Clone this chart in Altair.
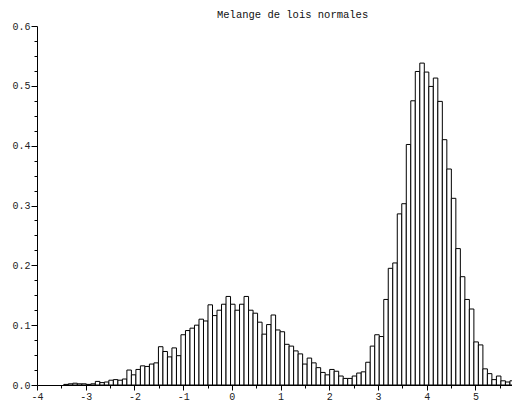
import altair as alt
import pandas as pd

title_text = "Melange de lois normales"

# histogram: 100 classes, first class starts at bin_start, class width bin_width
bin_start = -3.45
bin_width = 0.0925
densities = [
    0.001, 0.002, 0.003, 0.002, 0.002, 0.001, 0.002, 0.006, 0.004, 0.005,
    0.008, 0.009, 0.008, 0.010, 0.025, 0.017, 0.026, 0.032, 0.031, 0.035,
    0.037, 0.064, 0.056, 0.047, 0.062, 0.049, 0.084, 0.091, 0.095, 0.100,
    0.110, 0.107, 0.134, 0.116, 0.125, 0.135, 0.148, 0.135, 0.125, 0.135,
    0.148, 0.125, 0.120, 0.105, 0.085, 0.101, 0.117, 0.092, 0.089, 0.068,
    0.065, 0.057, 0.052, 0.035, 0.045, 0.037, 0.029, 0.021, 0.017, 0.026,
    0.023, 0.015, 0.011, 0.011, 0.015, 0.020, 0.022, 0.038, 0.065, 0.084,
    0.081, 0.143, 0.195, 0.204, 0.286, 0.303, 0.402, 0.475, 0.524, 0.538,
    0.523, 0.499, 0.513, 0.474, 0.410, 0.361, 0.312, 0.228, 0.181, 0.143,
    0.127, 0.072, 0.067, 0.027, 0.019, 0.009, 0.015, 0.007, 0.005, 0.007,
]

x_domain = [-4, 5.75]
y_domain = [0, 0.6]
x_ticks = [-4, -3.5, -3, -2.5, -2, -1.5, -1, -0.5, 0, 0.5, 1, 1.5, 2, 2.5,
           3, 3.5, 4, 4.5, 5, 5.5]
y_ticks = [round(0.025 * i, 3) for i in range(25)]

df = pd.DataFrame({
    "x0": [bin_start + i * bin_width for i in range(len(densities))],
    "x1": [bin_start + (i + 1) * bin_width for i in range(len(densities))],
    "density": densities,
})

FONT = "Liberation Mono"
x_major = "abs(datum.value - round(datum.value)) < 1e-6"
y_major = "abs(datum.value * 10 - round(datum.value * 10)) < 1e-6"

x_axis = alt.Axis(
    values=x_ticks,
    title=None,
    grid=False,
    domainColor="black",
    tickColor="black",
    tickSize={"condition": {"test": x_major, "value": 5}, "value": 3},
    labelExpr=f"{x_major} ? toString(round(datum.value)) : ''",
    labelFont=FONT,
    labelFontSize=10,
    labelColor="#222222",
    labelPadding=1,
    labelFlush=False,
    labelOverlap=False,
    labelBound=False,
)

y_axis = alt.Axis(
    values=y_ticks,
    title=None,
    grid=False,
    domainColor="black",
    tickColor="black",
    tickSize={"condition": {"test": y_major, "value": 6}, "value": 3},
    labelExpr=f"{y_major} ? format(datum.value, '.1f') : ''",
    labelFont=FONT,
    labelFontSize=10,
    labelColor="#222222",
    labelPadding=1,
    labelFlush=False,
    labelOverlap=False,
    labelBound=False,
)

chart = (
    alt.Chart(df)
    .mark_bar(fill="white", stroke="black", strokeWidth=1, clip=True)
    .encode(
        x=alt.X("x0:Q", scale=alt.Scale(domain=x_domain, nice=False, zero=False), axis=x_axis),
        x2="x1:Q",
        y=alt.Y("density:Q", scale=alt.Scale(domain=y_domain, nice=False), axis=y_axis),
        y2=alt.datum(0),
    )
    .properties(
        width=475,
        height=359,
        padding={"left": 29, "top": 18, "right": 0, "bottom": 16},
        autosize=alt.AutoSizeParams(type="none"),
        title=alt.TitleParams(
            title_text,
            font=FONT,
            fontSize=10.5,
            fontWeight="normal",
            color="#111111",
            anchor="start",
            frame="group",
            dx=180,
            offset=1,
        ),
    )
    .configure_view(stroke=None)
)

chart.save("out.html", embed_options={"renderer": "svg", "actions": False})
